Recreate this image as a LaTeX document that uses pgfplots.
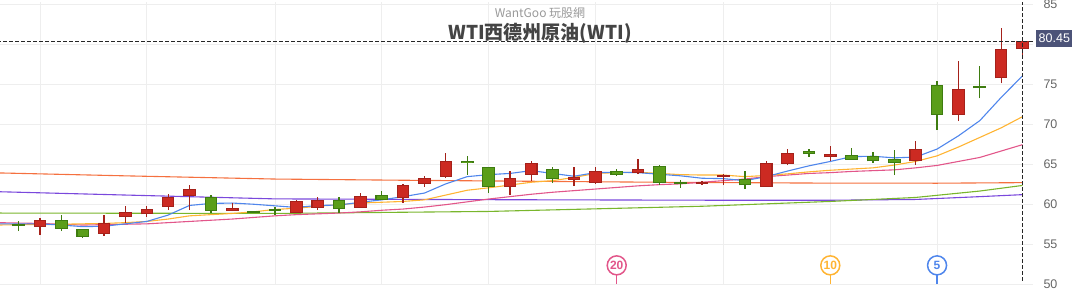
\documentclass[border=0pt]{standalone}
\usepackage{fontspec}
\setmainfont{Liberation Sans}
\newfontfamily\cjk{Noto Sans CJK TC}
\usepackage{pgfplots}
\usepackage{pgfplotstable}
\pgfplotsset{compat=1.18}
\definecolor{upfill}{HTML}{CC2A22}
\definecolor{upedge}{HTML}{A5211A}
\definecolor{dnfill}{HTML}{5A9E1A}
\definecolor{dnedge}{HTML}{3E7C10}
\definecolor{maB}{HTML}{4F86EC}
\definecolor{maY}{HTML}{FFB433}
\definecolor{maP}{HTML}{E2568A}
\definecolor{maO}{HTML}{F5703F}
\definecolor{maV}{HTML}{7A48DC}
\definecolor{maG}{HTML}{79B62C}
\definecolor{gridgray}{HTML}{EEEEEE}
\definecolor{tickgray}{HTML}{666666}
\definecolor{boxcol}{HTML}{4C5378}
\definecolor{titlegray}{HTML}{444444}
\definecolor{wmgray}{HTML}{999999}

\pgfplotstableread{
i O H L C
1 57.25 58.3 56.2 58.07
4 56.37 58.7 56.1 57.75
5 58.4 59.8 57.7 59.1
6 58.8 59.8 58.5 59.4
7 59.75 61.3 59.3 60.9
8 61.1 62.4 59.3 62.0
10 59.2 60.2 59.2 59.55
13 58.95 60.6 58.95 60.4
14 59.6 60.9 59.3 60.6
16 59.6 61.4 59.6 61.1
18 60.8 62.6 60.2 62.4
19 62.6 63.6 62.25 63.3
20 63.5 66.5 63.3 65.4
23 62.25 64.25 61.2 63.3
24 63.75 65.5 63.0 65.15
26 63.1 64.65 62.3 63.5
27 62.7 64.65 62.6 64.25
29 63.95 65.65 63.8 64.5
32 62.6 62.95 62.5 62.85
33 63.45 63.8 62.45 63.65
35 62.25 65.5 62.25 65.25
36 65.1 66.9 64.95 66.4
38 65.9 67.3 65.45 66.3
42 65.4 67.9 64.95 67.0
44 71.25 78.0 70.45 74.5
46 75.8 82.1 75.15 79.4
47 79.45 80.5 78.3 80.45
}\uptable

\pgfplotstableread{
i O H L C
0 57.5 57.9 56.7 57.4
2 58.07 58.75 56.7 57.0
3 57.0 57.0 55.8 56.0
9 61.0 61.2 59.0 59.25
11 59.1 59.15 58.95 59.0
12 59.45 59.66 58.7 59.25
15 60.6 60.9 59.0 59.4
17 61.25 61.75 60.6 60.6
21 65.5 66.1 63.75 65.2
22 64.75 64.75 61.45 62.15
25 64.5 64.75 62.7 63.2
28 64.25 64.5 63.6 63.75
30 64.8 64.9 62.4 62.7
31 62.75 63.1 62.1 62.7
34 63.2 64.15 61.95 62.4
37 66.65 67.0 66.0 66.3
39 66.25 67.1 65.6 65.6
40 66.1 66.6 65.2 65.4
41 65.65 66.8 63.7 65.25
43 75.0 75.4 69.3 71.25
45 74.8 77.3 73.3 74.6
}\dntable

\pgfplotsset{
  wick/.style={draw=none, mark=none, forget plot,
    error bars/.cd, y dir=plus, y explicit, error mark=none,
    error bar style={draw=#1, line width=1.3pt, solid}},
  body/.style 2 args={draw=none, mark=none, forget plot,
    error bars/.cd, y dir=plus, y explicit, error mark=none,
    error bar style={draw=#1, line width=#2, solid}},
}

\begin{document}
\begin{tikzpicture}[x=1pt,y=1pt]
\useasboundingbox (0,0) rectangle (1076,294);
\begin{axis}[
  at={(0,11.7)}, anchor=south west,
  scale only axis, width=1033pt, height=282.3pt,
  xmin=-0.875, xmax=47.49, ymin=50, ymax=85.29,
  axis line style={draw=none}, tick style={draw=none},
  xtick={1,6,12,17,22,27,33,38,43}, xticklabels={},
  ytick={50,55,...,85}, yticklabels={50,55,60,65,70,75,,85}, yticklabel pos=right,
  yticklabel style={anchor=west, xshift=7pt, text=tickgray, font=\fontsize{12.5}{14}\selectfont},
  /pgf/number format/assume math mode=true,
  grid=major, major grid style={gridgray, line width=0.9pt},
]
% long moving averages
\addplot[maO, line width=1.1pt] coordinates {(-1,63.97) (5,63.6) (12,63.2) (18,63.05) (25,62.9) (31,62.78) (37,62.7) (43,62.68) (47,62.75)};
\addplot[maV, line width=1.1pt] coordinates {(-1,61.62) (5,61.2) (12,60.72) (22,60.62) (33,60.55) (38,60.55) (42,60.65) (45,61.0) (47,61.25)};
\addplot[maG, line width=1.1pt] coordinates {(-1,58.95) (12,58.9) (22,59.15) (32,59.8) (38,60.4) (42,60.9) (45,61.7) (47,62.4)};
% MA20
\addplot[maP, line width=1.1pt] coordinates {(-1,57.75) (0,57.7) (1,57.65) (2,57.55) (3,57.45) (4,57.5) (5,57.55) (6,57.6) (7,57.75) (8,57.9) (9,58.05) (10,58.2) (11,58.4) (12,58.6) (13,58.75) (14,58.85) (15,58.95) (16,59.1) (17,59.3) (18,59.45) (19,59.7) (20,60.0) (21,60.35) (22,60.7) (23,61.0) (24,61.3) (25,61.55) (26,61.75) (27,61.95) (28,62.15) (29,62.35) (30,62.5) (31,62.6) (32,62.8) (33,63.0) (34,63.2) (35,63.5) (36,63.7) (37,63.9) (38,64.0) (39,64.15) (40,64.25) (41,64.35) (42,64.6) (43,64.9) (44,65.4) (45,65.9) (46,66.7) (47,67.5)};
% MA10
\addplot[maY, line width=1.1pt] coordinates {(-1,57.45) (0,57.5) (1,57.5) (2,57.55) (3,57.6) (4,57.65) (5,57.75) (6,57.9) (7,58.2) (8,58.6) (9,58.75) (10,58.9) (11,59.1) (12,59.4) (13,59.55) (14,59.8) (15,60.0) (16,60.2) (17,60.3) (18,60.4) (19,60.6) (20,61.2) (21,61.8) (22,62.1) (23,62.45) (24,62.8) (25,63.0) (26,63.4) (27,63.9) (28,64.0) (29,64.05) (30,63.9) (31,63.75) (32,63.7) (33,63.7) (34,63.5) (35,63.65) (36,63.85) (37,64.1) (38,64.3) (39,64.45) (40,64.6) (41,64.95) (42,65.4) (43,66.1) (44,67.2) (45,68.4) (46,69.6) (47,71.0)};
% MA5
\addplot[maB, line width=1.1pt] coordinates {(-1,57.6) (0,57.6) (1,57.6) (2,57.45) (3,57.25) (4,57.3) (5,57.6) (6,57.9) (7,58.7) (8,59.9) (9,60.15) (10,60.2) (11,60.05) (12,59.85) (13,59.65) (14,59.9) (15,59.95) (16,60.3) (17,60.6) (18,61.0) (19,61.45) (20,62.6) (21,63.5) (22,63.75) (23,63.9) (24,64.25) (25,63.9) (26,63.55) (27,64.0) (28,64.05) (29,64.0) (30,63.8) (31,63.6) (32,63.3) (33,63.25) (34,63.0) (35,63.5) (36,64.2) (37,64.85) (38,65.4) (39,66.0) (40,66.05) (41,65.85) (42,65.95) (43,66.95) (44,68.6) (45,70.5) (46,73.4) (47,76.1)};
% wicks
\addplot[wick=upedge] table[x=i, y=L, y error expr=\thisrow{H}-\thisrow{L}] {\uptable};
\addplot[wick=dnedge] table[x=i, y=L, y error expr=\thisrow{H}-\thisrow{L}] {\dntable};
% bodies (outer)
\addplot[body={upedge}{12.6pt}] table[x=i, y expr={(\thisrow{O}+\thisrow{C})/2-max(abs(\thisrow{C}-\thisrow{O})/2,0.15)}, y error expr={2*max(abs(\thisrow{C}-\thisrow{O})/2,0.15)}] {\uptable};
\addplot[body={dnedge}{12.6pt}] table[x=i, y expr={(\thisrow{O}+\thisrow{C})/2-max(abs(\thisrow{C}-\thisrow{O})/2,0.15)}, y error expr={2*max(abs(\thisrow{C}-\thisrow{O})/2,0.15)}] {\dntable};
% bodies (inner)
\addplot[body={upfill}{10.4pt}] table[x=i, y expr={min(\thisrow{O},\thisrow{C})+0.13}, y error expr={max(abs(\thisrow{C}-\thisrow{O})-0.26,0)}] {\uptable};
\addplot[body={dnfill}{10.4pt}] table[x=i, y expr={min(\thisrow{O},\thisrow{C})+0.13}, y error expr={max(abs(\thisrow{C}-\thisrow{O})-0.26,0)}] {\dntable};
% crosshair
\addplot[black!85, line width=0.9pt, dash pattern=on 3.5pt off 2.5pt, forget plot] coordinates {(-1,80.45) (48,80.45)};
\addplot[black!85, line width=0.9pt, dash pattern=on 3.5pt off 2.5pt, forget plot] coordinates {(47,50.5) (47,86)};
% MA start markers
\addplot[maP, line width=1.4pt] coordinates {(28,50.05) (28,51.2)};
\addplot[maY, line width=1.4pt] coordinates {(38,50.05) (38,51.2)};
\addplot[maB, line width=1.4pt] coordinates {(43,50.05) (43,51.2)};
\addplot[only marks, mark=*, mark size=9.5pt, mark options={fill=white, draw=maP, line width=1.5pt},
  point meta=explicit symbolic, nodes near coords,
  every node near coord/.append style={anchor=center, text=maP, inner sep=0pt, font=\bfseries\fontsize{12}{14}\selectfont}]
  coordinates {(28,52.41) [20]};
\addplot[only marks, mark=*, mark size=9.5pt, mark options={fill=white, draw=maY, line width=1.5pt},
  point meta=explicit symbolic, nodes near coords,
  every node near coord/.append style={anchor=center, text=maY, inner sep=0pt, font=\bfseries\fontsize{12}{14}\selectfont}]
  coordinates {(38,52.41) [10]};
\addplot[only marks, mark=*, mark size=9.5pt, mark options={fill=white, draw=maB, line width=1.5pt},
  point meta=explicit symbolic, nodes near coords,
  every node near coord/.append style={anchor=center, text=maB, inner sep=0pt, font=\bfseries\fontsize{12}{14}\selectfont}]
  coordinates {(43,52.41) [5]};
\end{axis}
\node[text=wmgray, font=\cjk\fontsize{12}{14}\selectfont] at (540,281) {WantGoo 玩股網};
\node[text=titlegray, font=\cjk\bfseries\fontsize{19}{22}\selectfont] at (540,261) {WTI西德州原油(WTI)};
\node[fill=boxcol, text=white, anchor=west, inner xsep=2.5pt, minimum height=17pt, font=\fontsize{12.5}{14}\selectfont] at (1036,255.3) {80.45};
\end{tikzpicture}
\end{document}
